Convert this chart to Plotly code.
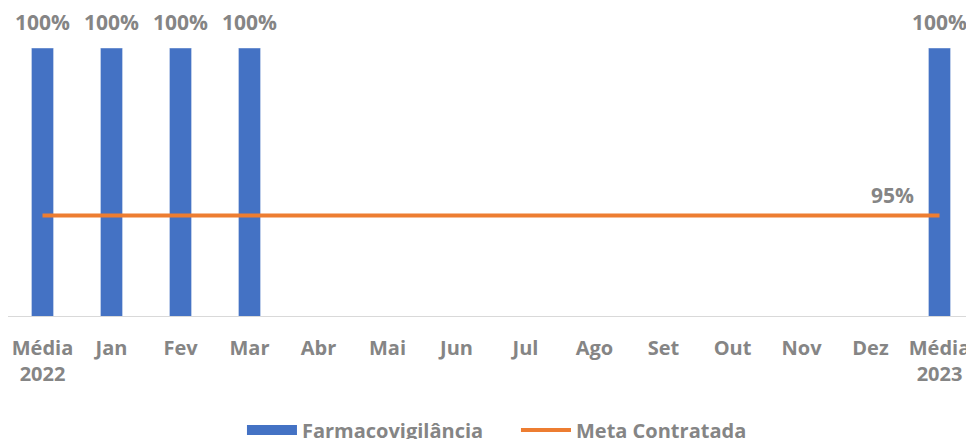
import plotly.graph_objects as go

categories = ["Média<br>2022", "Jan", "Fev", "Mar", "Abr", "Mai", "Jun", "Jul",
              "Ago", "Set", "Out", "Nov", "Dez", "Média<br>2023"]
farmaco = [1.0, 1.0, 1.0, 1.0, None, None, None, None, None, None, None, None, None, 1.0]
meta = [0.95] * 14

BLUE = "#4472C4"
ORANGE = "#ED7D31"
GRAY = "#858585"
FONT = "Open Sans"

fig = go.Figure()
fig.add_trace(go.Bar(x=categories, y=farmaco, name="Farmacovigilância",
                     marker=dict(color=BLUE), width=0.32, showlegend=False))
# legend proxy giving a wide rectangle key like the original
fig.add_trace(go.Scatter(x=[None], y=[None], name="Farmacovigilância", mode="lines",
                         line=dict(color=BLUE, width=14), hoverinfo="skip"))
fig.add_trace(go.Scatter(x=categories, y=meta, name="Meta Contratada", mode="lines",
                         line=dict(color=ORANGE, width=4)))

for c, v in zip(categories, farmaco):
    if v is not None:
        fig.add_annotation(x=c, y=v, text=f"{v*100:.0f}%", showarrow=False,
                           yanchor="bottom", yshift=10,
                           font=dict(family=FONT, size=21, color=GRAY, weight="bold"))

fig.add_annotation(x=categories[-1], y=meta[-1], text=f"{meta[-1]*100:.0f}%", showarrow=False,
                   xanchor="right", yanchor="bottom", xshift=-24, yshift=5,
                   font=dict(family=FONT, size=21, color=GRAY, weight="bold"))

fig.update_layout(
    width=966, height=431,
    margin=dict(l=0, r=0, t=40, b=123, autoexpand=False),
    plot_bgcolor="white", paper_bgcolor="white",
    showlegend=True,
    legend=dict(orientation="h", x=0.2422, xanchor="left", y=-0.425, yanchor="middle",
                font=dict(family=FONT, size=20, color=GRAY, weight="bold"),
                itemwidth=50, entrywidth=209, entrywidthmode="pixels", tracegroupgap=0),
    xaxis=dict(type="category", range=[-0.5, 13.5], showline=True, linecolor="#D9D9D9",
               linewidth=1, ticks="outside", ticklen=14, tickcolor="rgba(0,0,0,0)",
               tickfont=dict(family=FONT, size=20, color=GRAY, weight="bold"),
               showgrid=False, fixedrange=True, automargin=False),
    yaxis=dict(range=[0.92, 1.0], visible=False, showgrid=False),
)

fig.write_html("out.html")
